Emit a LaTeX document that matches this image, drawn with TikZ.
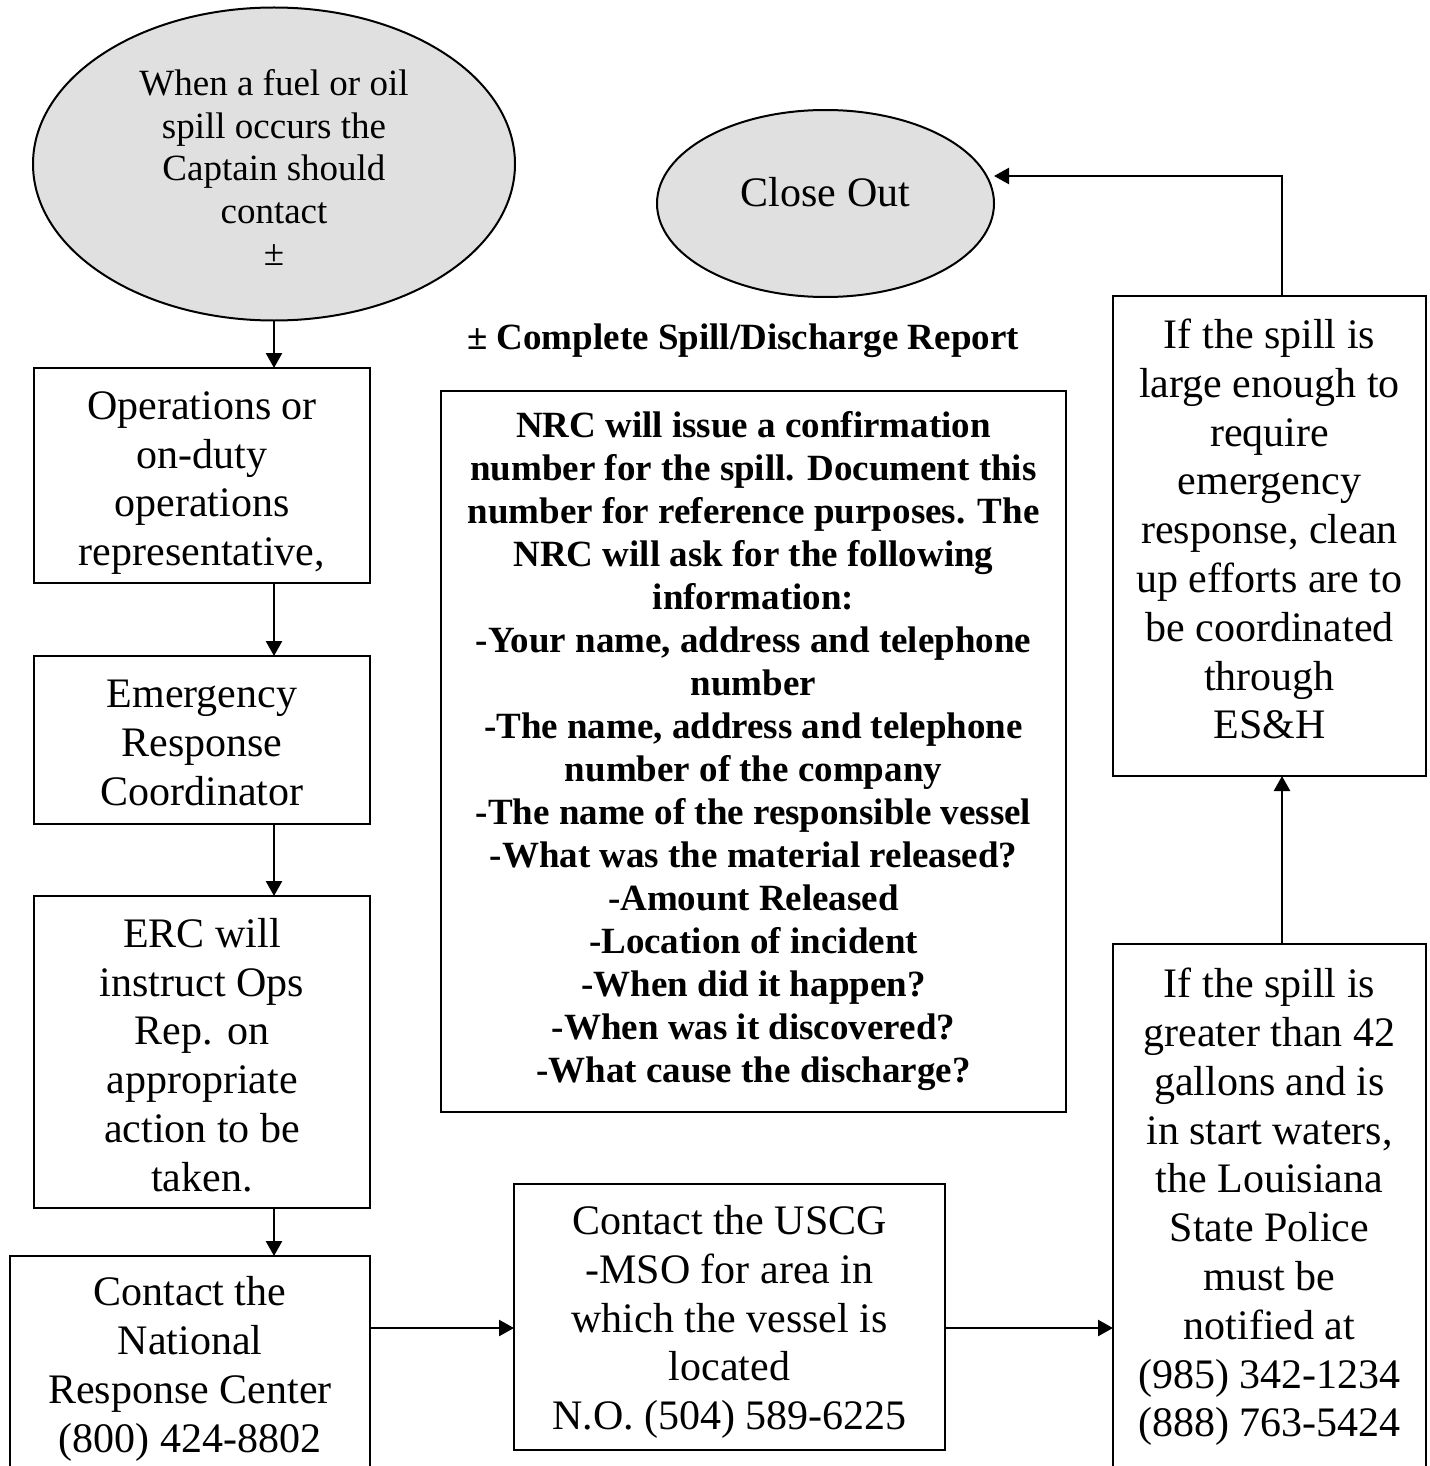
\documentclass[tikz,border=0pt]{standalone}
\usepackage{fontspec}
\setmainfont{Liberation Serif}
\usetikzlibrary{arrows.meta,shapes.geometric}
\definecolor{ovalfill}{RGB}{224,224,224}
% invisible struts that nudge a text block inside its frame
\newcommand{\topstrut}[1]{\rule{0pt}{#1}}
\newcommand{\botstrut}[1]{\rule[-#1]{0pt}{1pt}}
\begin{document}
\begin{tikzpicture}[x=1pt,y=-1pt,
  every node/.style={inner sep=0pt, outer sep=0pt},
  flowbox/.style={draw, line width=2.5pt, align=center, font=\fontsize{42}{48.8}\selectfont},
  oval/.style={ellipse, draw, line width=2pt, fill=ovalfill, align=center},
  link/.style={line width=2.5pt, -{Triangle[length=15pt,width=16pt]}}]
\useasboundingbox (0,0) rectangle (1429,1466);

% terminal ovals
\node[oval, minimum width=482pt, minimum height=313pt,
      font=\fontsize{37}{42.5}\selectfont] (start) at (274,164)
  {\topstrut{33.5pt}When a fuel or oil\\spill occurs the\\Captain should\\contact\\±};
\node[oval, minimum width=337pt, minimum height=187pt,
      label={[font=\fontsize{42}{48.8}\selectfont, yshift=11pt]center:Close Out}] (close) at (825.5,203.5) {};

% left column
\node[flowbox, minimum width=336pt, minimum height=215pt] (ops) at (202,475.5)
  {\topstrut{43pt}Operations or\\on-duty\\operations\\representative,};
\node[flowbox, minimum width=336pt, minimum height=168pt] (erc) at (202,740)
  {\topstrut{33pt}Emergency\\Response\\Coordinator};
\node[flowbox, minimum width=336pt, minimum height=312pt] (instr) at (202,1052)
  {\topstrut{35pt}ERC will\\instruct Ops\\Rep. on\\appropriate\\action to be\\taken.};
\node[flowbox, minimum width=360pt, minimum height=220pt] (nrc) at (190,1366)
  {\topstrut{35pt}Contact the\\National\\Response Center\\(800) 424-8802};

% bottom middle
\node[flowbox, minimum width=431pt, minimum height=266pt] (uscg) at (729.5,1317)
  {\topstrut{39pt}Contact the USCG\\-MSO for area in\\which the vessel is\\located\\N.O. (504) 589-6225};

% right column
\node[flowbox, minimum width=313pt, minimum height=526pt] (lsp) at (1269.5,1207)
  {If the spill is\\greater than 42\\gallons and is\\in start waters,\\the Louisiana\\State Police\\must be\\notified at\\(985) 342-1234\\(888) 763-5424};
\node[flowbox, minimum width=313pt, minimum height=480pt] (esh) at (1269.5,536)
  {If the spill is\\large enough to\\require\\emergency\\response, clean\\up efforts are to\\be coordinated\\through\\ES\&H\botstrut{14pt}};

% report note and NRC information box
\node[font=\bfseries\fontsize{37}{43}\selectfont] (report) at (743,341)
  {± Complete Spill/Discharge Report};
\node[flowbox, minimum width=625pt, minimum height=721pt,
      font=\bfseries\fontsize{37}{43}\selectfont] (info) at (753.5,751.5)
  {NRC will issue a confirmation\\number for the spill. Document this\\number for reference purposes. The\\NRC will ask for the following\\information:\\-Your name, address and telephone\\number\\-The name, address and telephone\\number of the company\\-The name of the responsible vessel\\-What was the material released?\\-Amount Released\\-Location of incident\\-When did it happen?\\-When was it discovered?\\-What cause the discharge?};

% connector guides
\coordinate (lane) at (274,0);
\coordinate (lane2) at (1282,0);
\coordinate (row) at (0,1328);
\coordinate (turn) at (1282,176);

% connectors
\draw[link] (start.south) -- (start.south |- ops.north);
\draw[link] (lane |- ops.south) -- (lane |- erc.north);
\draw[link] (lane |- erc.south) -- (lane |- instr.north);
\draw[link] (lane |- instr.south) -- (lane |- nrc.north);
\draw[link] (nrc.east |- row) -- (uscg.west |- row);
\draw[link] (uscg.east |- row) -- (lsp.west |- row);
\draw[link] (lane2 |- lsp.north) -- (lane2 |- esh.south);
\draw[link] (lane2 |- esh.north) -- (turn) -- (close.east |- turn);
\end{tikzpicture}
\end{document}
